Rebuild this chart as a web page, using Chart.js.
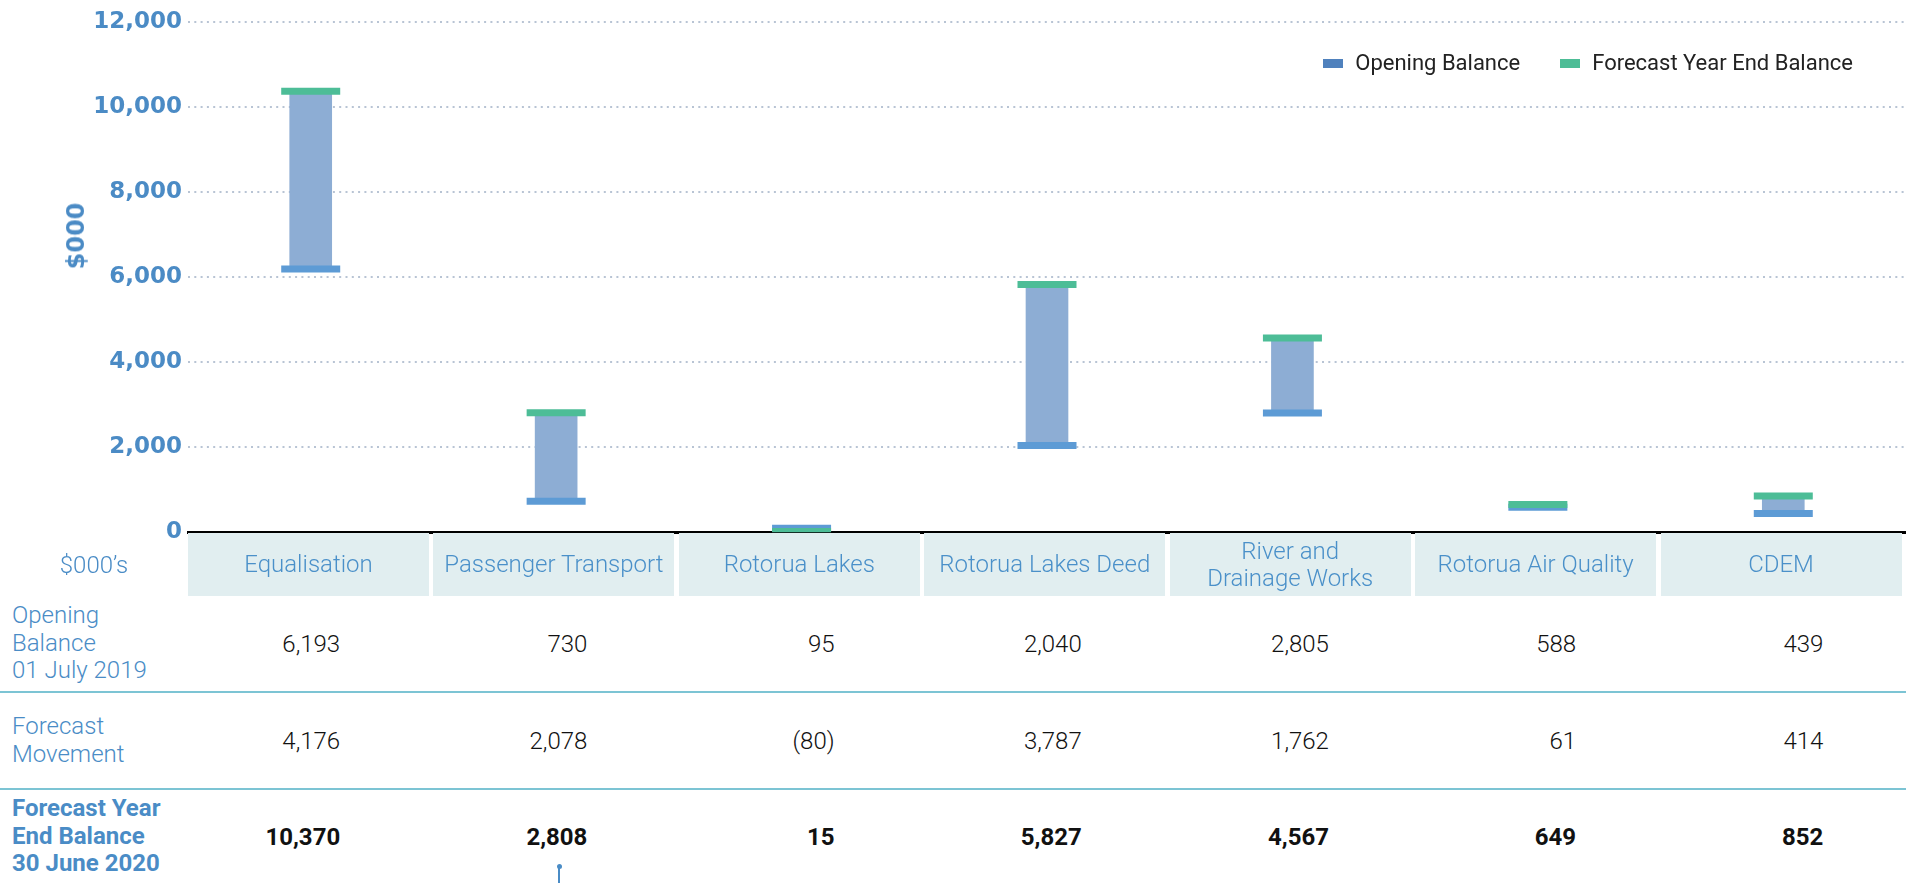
<!DOCTYPE html>
<html>
<head>
<meta charset="utf-8">
<title>Reserve balances</title>
<script src="https://cdn.jsdelivr.net/npm/chart.js@4.4.0/dist/chart.umd.min.js"></script>
<style>
    body { margin: 0; background: #fff; }
    #page { position: relative; width: 1906px; height: 883px; overflow: hidden; font-family: Roboto, "Open Sans", sans-serif; }
    #chartBox { position: absolute; left: 0; top: 0; width: 1906px; height: 552px; }
    #yTitle { position: absolute; left: 76px; top: 236px; transform: translate(-50%, -50%) rotate(-90deg); font: bold 24px "DejaVu Sans"; color: #4b8bc5; white-space: nowrap; }
    #legend { position: absolute; top: 50px; right: 53px; display: flex; align-items: center; font-size: 22px; line-height: 26px; color: #222; }
    #legend .item { display: flex; align-items: center; margin-left: 40px; }
    #legend .swatch { width: 20px; height: 9px; margin-right: 12px; }
    #unit { position: absolute; left: 0; top: 533px; width: 188px; height: 63px; display: flex; align-items: center; justify-content: center; font-size: 24px; font-weight: 300; color: #4a8cc6; }
    #head { position: absolute; left: 188px; top: 533px; width: 1718px; height: 63px; display: grid; grid-template-columns: repeat(7, 1fr); }
    #head div { margin-right: 4.5px; background: #e1eef0; color: #4a90c9; font-size: 24px; font-weight: 300; line-height: 27px; display: flex; align-items: center; justify-content: center; text-align: center; }
    .row { position: absolute; left: 0; width: 1920px; display: grid; grid-template-columns: 183px repeat(7, 247.2px); background: #fff; }
    .row div { display: flex; align-items: center; font-size: 24px; font-weight: 300; }
    .row .lab { padding-left: 12px; color: #4a8cc6; line-height: 27.5px; }
    .row .num { justify-content: flex-end; padding-right: 90px; color: #111; }
    .row.bold div { font-weight: 700; }
    .line { position: absolute; left: 0; width: 1906px; height: 2px; background: #7cc4d4; }
    #marker { position: absolute; left: 558px; top: 866px; width: 2px; height: 17px; background: #4a8cc6; }
    #marker:before { content: ""; position: absolute; left: -1.5px; top: -2px; width: 5px; height: 5px; border-radius: 50%; background: #4a8cc6; }
</style>
</head>
<body>
<div id="page">
    <div id="chartBox"><canvas id="myChart"></canvas></div>
    <div id="yTitle">$000</div>
    <div id="legend"></div>
    <div id="unit">$000’s</div>
    <div id="head"></div>
    <div class="row" id="row0" style="top:596px;height:95px"></div>
    <div class="line" style="top:691px"></div>
    <div class="row" id="row1" style="top:693px;height:95px"></div>
    <div class="line" style="top:788px"></div>
    <div class="row bold" id="row2" style="top:790px;height:93px"></div>
    <div id="marker"></div>
</div>
<script>
// -------------------------------------------- data ------------------------------------------------
const categories = [
    "Equalisation", "Passenger Transport", "Rotorua Lakes", "Rotorua Lakes Deed",
    "River and\nDrainage Works", "Rotorua Air Quality", "CDEM"
];
const openingBalance = [6193, 730, 95, 2040, 2805, 588, 439];
const forecastMovement = [4176, 2078, -80, 3787, 1762, 61, 414];
const yearEndBalance = [10370, 2808, 15, 5827, 4567, 649, 852];

const rowLabels = [
    ["Opening", "Balance", "01 July 2019"],
    ["Forecast", "Movement"],
    ["Forecast Year", "End Balance", "30 June 2020"]
];
const seriesNames = ["Opening Balance", "Forecast Year End Balance"];
const legendColors = ["#4f81bd", "#4dbd96"];

// -------------------------------------------- table + legend --------------------------------------
function fmt(v) {
    return v < 0 ? "(" + Math.abs(v).toLocaleString("en-US") + ")" : v.toLocaleString("en-US");
}

document.getElementById("head").innerHTML = categories
    .map((c) => "<div>" + c.replace("\n", "<br>") + "</div>").join("");

[openingBalance, forecastMovement, yearEndBalance].forEach((vals, r) => {
    let html = '<div class="lab">' + rowLabels[r].join("<br>") + "</div>";
    vals.forEach((v) => { html += '<div class="num">' + fmt(v) + "</div>"; });
    document.getElementById("row" + r).innerHTML = html;
});

document.getElementById("legend").innerHTML = seriesNames
    .map((s, i) => '<div class="item"><span class="swatch" style="background:' + legendColors[i] + '"></span>' + s + "</div>")
    .join("");

// -------------------------------------------- chart -----------------------------------------------
const data = {
    labels: categories,
    datasets: [
        {
            type: "bar",
            label: "Forecast Movement",
            data: openingBalance.map((v, i) => [v, yearEndBalance[i]]),
            backgroundColor: "#8dadd4",
            barThickness: 42,
            order: 3,
        },
        {
            type: "line",
            label: seriesNames[0],
            data: openingBalance,
            showLine: false,
            pointStyle: "line",
            pointRadius: 29.5,
            pointHoverRadius: 29.5,
            pointBorderWidth: 7,
            pointHoverBorderWidth: 7,
            borderColor: "#5d9bd5",
            backgroundColor: "#5d9bd5",
            order: 2,
        },
        {
            type: "line",
            label: seriesNames[1],
            data: yearEndBalance,
            showLine: false,
            pointStyle: "line",
            pointRadius: 29.5,
            pointHoverRadius: 29.5,
            pointBorderWidth: 7,
            pointHoverBorderWidth: 7,
            borderColor: "#4dbd97",
            backgroundColor: "#4dbd97",
            order: 1,
        },
    ],
};

const config = {
    type: "bar",
    data: data,
    options: {
        responsive: true,
        maintainAspectRatio: false,
        animation: false,
        layout: { autoPadding: false, padding: { top: 22, left: 0, right: 0, bottom: 0 } },
        scales: {
            x: {
                grid: { display: false, drawTicks: false },
                ticks: { display: false },
                border: { display: true, color: "#000", width: 3 },
            },
            y: {
                min: 0,
                max: 12000,
                afterFit: function (scale) {
                    scale.width = 188;
                },
                grid: { color: "#b8c4d4", lineWidth: 2, drawTicks: false },
                border: { display: false, dash: [2, 4.3] },
                ticks: {
                    stepSize: 2000,
                    padding: 6,
                    color: "#4b8bc5",
                    font: { family: "DejaVu Sans", size: 23, weight: "bold" },
                    callback: function (value) {
                        return value.toLocaleString("en-US");
                    },
                },
            },
        },
        plugins: {
            legend: { display: false },
            tooltip: { enabled: true },
        },
    },
};

const myChart = new Chart(document.getElementById("myChart").getContext("2d"), config);
</script>
</body>
</html>
